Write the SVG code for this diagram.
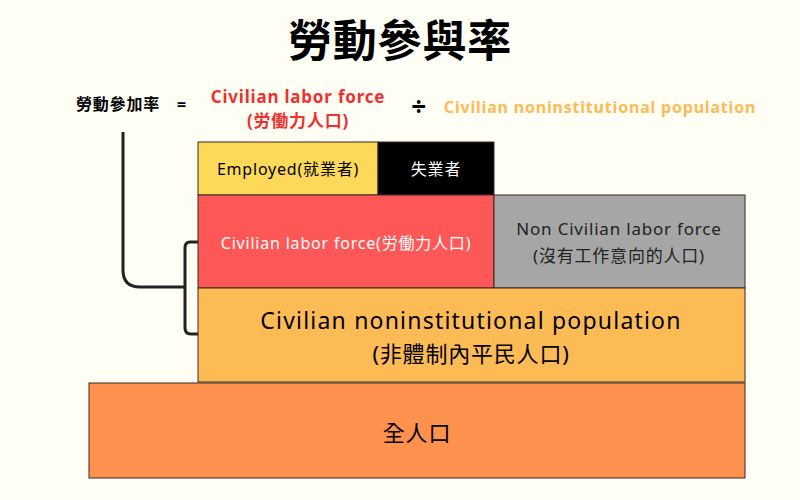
<svg xmlns="http://www.w3.org/2000/svg" width="800" height="500" viewBox="0 0 800 500">
<style>
text{font-family:"Noto Sans","Noto Sans CJK TC",sans-serif;text-anchor:middle;dominant-baseline:central;letter-spacing:0.8px}
.b{stroke:#3a2a20;stroke-width:1}
.ln{fill:none;stroke:#222;stroke-width:3}
</style>
<rect width="800" height="500" fill="#fffef5"/>
<text x="400" y="40" font-size="44" font-weight="bold" fill="#000">勞動參與率</text>
<text x="118" y="104" font-size="16" font-weight="bold">勞動參加率</text>
<text x="182" y="104" font-size="16" font-weight="bold">=</text>
<text x="298" y="96" font-size="17" font-weight="bold" fill="#f03030">Civilian labor force</text>
<text x="298" y="120" font-size="17" font-weight="bold" fill="#f03030">(労働力人口)</text>
<text x="419" y="106" font-size="26" font-weight="bold">÷</text>
<text x="600" y="107" font-size="16" font-weight="bold" fill="#fdbb55">Civilian noninstitutional population</text>
<g id="connectors">
<path class="ln" d="M123 132 V270 Q123 287 140 287 H184"/>
<path class="ln" d="M198 242 H190 Q185 242 185 248 V328 Q185 334 191 334 H198"/>
</g>
<g id="employed"><rect class="b" x="198" y="142" width="180" height="53" fill="#fdd95a"/><text x="288" y="169" font-size="16">Employed(就業者)</text></g>
<g id="unemployed"><rect class="b" x="378" y="142" width="116" height="53" fill="#000"/><text x="436" y="169" font-size="16" fill="#fff">失業者</text></g>
<g id="laborforce"><rect class="b" x="198" y="195" width="296" height="93" fill="#fe5757"/><text x="346" y="243" font-size="16" fill="#fff">Civilian labor force(労働力人口)</text></g>
<g id="nonlabor"><rect class="b" x="494" y="195" width="251" height="93" fill="#a6a6a6"/><text x="619" y="228" font-size="17" fill="#222">Non Civilian labor force</text><text x="619" y="255" font-size="17" fill="#222">(沒有工作意向的人口)</text></g>
<g id="population"><rect class="b" x="198" y="288" width="547" height="94" fill="#fdbb55"/><text x="471" y="320" font-size="23" style="letter-spacing:1.2px">Civilian noninstitutional population</text><text x="471" y="353" font-size="22">(非體制內平民人口)</text></g>
<g id="total"><rect class="b" x="89" y="383" width="656" height="95" fill="#fe914d"/><text x="417" y="432" font-size="22">全人口</text></g>
</svg>
